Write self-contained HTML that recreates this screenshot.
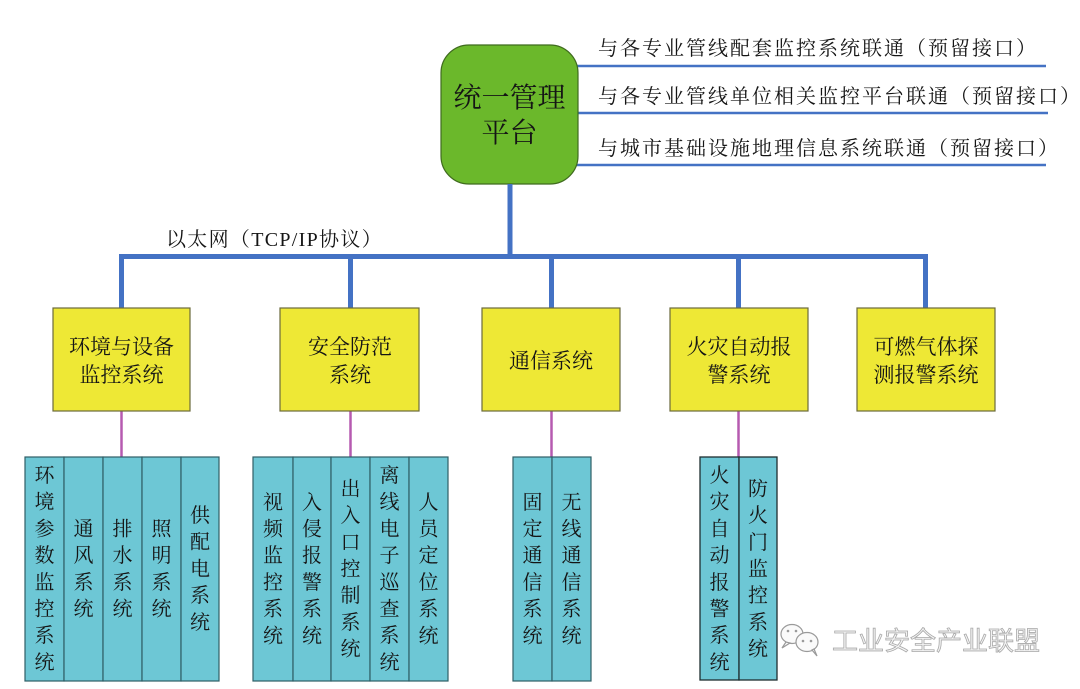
<!DOCTYPE html>
<html><head><meta charset="utf-8"><style>
html,body{margin:0;padding:0;background:#fff;}
svg{display:block;}
text{font-family:"Liberation Serif","Noto Serif CJK SC",serif;fill:#151515;}
</style></head><body>
<svg width="1080" height="689" viewBox="0 0 1080 689" xmlns="http://www.w3.org/2000/svg">
<!-- right interface lines -->
<g stroke="#4472C4" stroke-width="2.5" fill="none">
<line x1="575" y1="66" x2="1046" y2="66"/>
<line x1="575" y1="113" x2="1048" y2="113"/>
<line x1="575" y1="165" x2="1046" y2="165"/>
</g>
<g font-size="20" letter-spacing="2">
<text x="598" y="55">与各专业管线配套监控系统联通（预留接口）</text>
<text x="598" y="103">与各专业管线单位相关监控平台联通（预留接口）</text>
<text x="598" y="155">与城市基础设施地理信息系统联通（预留接口）</text>
</g>
<!-- green box -->
<rect x="441" y="45" width="137" height="139" rx="28" ry="28" fill="#6BB82B" stroke="#3f6b1e" stroke-width="1.2"/>
<text x="509.5" y="107" font-size="28" text-anchor="middle">统一管理</text>
<text x="509.5" y="142" font-size="28" text-anchor="middle">平台</text>
<!-- trunk & bus -->
<g stroke="#4472C4" stroke-width="5" fill="none" stroke-linejoin="miter">
<line x1="510" y1="184" x2="510" y2="257"/>
<polyline points="121.5,308 121.5,256.5 925.5,256.5 925.5,308"/>
<line x1="350.5" y1="256" x2="350.5" y2="308"/>
<line x1="551.5" y1="256" x2="551.5" y2="308"/>
<line x1="738.5" y1="256" x2="738.5" y2="308"/>
</g>
<text x="166" y="246" font-size="20" letter-spacing="1.3">以太网（TCP/IP协议）</text>
<!-- magenta lines -->
<g stroke="#B65AB0" stroke-width="2.5">
<line x1="121.5" y1="411" x2="121.5" y2="457"/>
<line x1="350.5" y1="411" x2="350.5" y2="457"/>
<line x1="551.5" y1="411" x2="551.5" y2="457"/>
<line x1="738.5" y1="411" x2="738.5" y2="457"/>
</g>
<!-- yellow boxes -->
<g fill="#EEE835" stroke="#6b6a3c" stroke-width="1.2">
<rect x="53" y="308" width="137" height="103"/>
<rect x="280" y="308" width="139" height="103"/>
<rect x="482" y="308" width="138" height="103"/>
<rect x="670" y="308" width="138" height="103"/>
<rect x="857" y="308" width="138" height="103"/>
</g>
<g font-size="21" text-anchor="middle">
<text x="121.5" y="354">环境与设备</text>
<text x="121.5" y="382">监控系统</text>
<text x="350" y="354">安全防范</text>
<text x="350" y="382">系统</text>
<text x="551" y="368">通信系统</text>
<text x="739" y="354">火灾自动报</text>
<text x="739" y="382">警系统</text>
<text x="926" y="354">可燃气体探</text>
<text x="926" y="382">测报警系统</text>
</g>
<!-- teal columns -->
<g fill="#6DC7D5" stroke="#2f5f66" stroke-width="1.2">
<rect x="25" y="457" width="39" height="224"/>
<rect x="64" y="457" width="39" height="224"/>
<rect x="103" y="457" width="39" height="224"/>
<rect x="142" y="457" width="39" height="224"/>
<rect x="181" y="457" width="38" height="224"/>
<rect x="253" y="457" width="40" height="224"/>
<rect x="293" y="457" width="38" height="224"/>
<rect x="331" y="457" width="39" height="224"/>
<rect x="370" y="457" width="39" height="224"/>
<rect x="409" y="457" width="39" height="224"/>
<rect x="513" y="457" width="39" height="224"/>
<rect x="552" y="457" width="39" height="224"/>
</g>
<g fill="#6DC7D5" stroke="#1e2e30" stroke-width="1.3">
<rect x="700" y="457" width="39" height="223"/>
<rect x="739" y="457" width="38" height="223"/>
</g>
<g font-size="20" text-anchor="middle">
<text y="482"><tspan x="44.5">环</tspan><tspan x="44.5" dy="26.7">境</tspan><tspan x="44.5" dy="26.7">参</tspan><tspan x="44.5" dy="26.7">数</tspan><tspan x="44.5" dy="26.7">监</tspan><tspan x="44.5" dy="26.7">控</tspan><tspan x="44.5" dy="26.7">系</tspan><tspan x="44.5" dy="26.7">统</tspan></text>
<text y="535.5"><tspan x="83.5">通</tspan><tspan x="83.5" dy="26.7">风</tspan><tspan x="83.5" dy="26.7">系</tspan><tspan x="83.5" dy="26.7">统</tspan></text>
<text y="535.5"><tspan x="122.5">排</tspan><tspan x="122.5" dy="26.7">水</tspan><tspan x="122.5" dy="26.7">系</tspan><tspan x="122.5" dy="26.7">统</tspan></text>
<text y="535.5"><tspan x="161.5">照</tspan><tspan x="161.5" dy="26.7">明</tspan><tspan x="161.5" dy="26.7">系</tspan><tspan x="161.5" dy="26.7">统</tspan></text>
<text y="522"><tspan x="200">供</tspan><tspan x="200" dy="26.7">配</tspan><tspan x="200" dy="26.7">电</tspan><tspan x="200" dy="26.7">系</tspan><tspan x="200" dy="26.7">统</tspan></text>

<text y="508.75"><tspan x="273">视</tspan><tspan x="273" dy="26.7">频</tspan><tspan x="273" dy="26.7">监</tspan><tspan x="273" dy="26.7">控</tspan><tspan x="273" dy="26.7">系</tspan><tspan x="273" dy="26.7">统</tspan></text>
<text y="508.75"><tspan x="312">入</tspan><tspan x="312" dy="26.7">侵</tspan><tspan x="312" dy="26.7">报</tspan><tspan x="312" dy="26.7">警</tspan><tspan x="312" dy="26.7">系</tspan><tspan x="312" dy="26.7">统</tspan></text>
<text y="495.4"><tspan x="350.5">出</tspan><tspan x="350.5" dy="26.7">入</tspan><tspan x="350.5" dy="26.7">口</tspan><tspan x="350.5" dy="26.7">控</tspan><tspan x="350.5" dy="26.7">制</tspan><tspan x="350.5" dy="26.7">系</tspan><tspan x="350.5" dy="26.7">统</tspan></text>
<text y="482"><tspan x="389.5">离</tspan><tspan x="389.5" dy="26.7">线</tspan><tspan x="389.5" dy="26.7">电</tspan><tspan x="389.5" dy="26.7">子</tspan><tspan x="389.5" dy="26.7">巡</tspan><tspan x="389.5" dy="26.7">查</tspan><tspan x="389.5" dy="26.7">系</tspan><tspan x="389.5" dy="26.7">统</tspan></text>
<text y="508.75"><tspan x="428.5">人</tspan><tspan x="428.5" dy="26.7">员</tspan><tspan x="428.5" dy="26.7">定</tspan><tspan x="428.5" dy="26.7">位</tspan><tspan x="428.5" dy="26.7">系</tspan><tspan x="428.5" dy="26.7">统</tspan></text>

<text y="508.75"><tspan x="532.5">固</tspan><tspan x="532.5" dy="26.7">定</tspan><tspan x="532.5" dy="26.7">通</tspan><tspan x="532.5" dy="26.7">信</tspan><tspan x="532.5" dy="26.7">系</tspan><tspan x="532.5" dy="26.7">统</tspan></text>
<text y="508.75"><tspan x="571.5">无</tspan><tspan x="571.5" dy="26.7">线</tspan><tspan x="571.5" dy="26.7">通</tspan><tspan x="571.5" dy="26.7">信</tspan><tspan x="571.5" dy="26.7">系</tspan><tspan x="571.5" dy="26.7">统</tspan></text>

<text y="482"><tspan x="719.5">火</tspan><tspan x="719.5" dy="26.7">灾</tspan><tspan x="719.5" dy="26.7">自</tspan><tspan x="719.5" dy="26.7">动</tspan><tspan x="719.5" dy="26.7">报</tspan><tspan x="719.5" dy="26.7">警</tspan><tspan x="719.5" dy="26.7">系</tspan><tspan x="719.5" dy="26.7">统</tspan></text>
<text y="495.4"><tspan x="758">防</tspan><tspan x="758" dy="26.7">火</tspan><tspan x="758" dy="26.7">门</tspan><tspan x="758" dy="26.7">监</tspan><tspan x="758" dy="26.7">控</tspan><tspan x="758" dy="26.7">系</tspan><tspan x="758" dy="26.7">统</tspan></text>
</g>
<!-- watermark -->
<g fill="#fafafa" stroke="#9a9a9a" stroke-width="1.2">
<ellipse cx="792" cy="634" rx="11" ry="9.5"/>
<path d="M786 642 L782 648 L790 643 Z"/>
<ellipse cx="807" cy="642" rx="11" ry="9.5"/>
<path d="M812 650 L817 656 L814 649 Z"/>
</g>
<g fill="#9a9a9a">
<circle cx="788" cy="631" r="1.3"/><circle cx="796" cy="631" r="1.3"/>
<circle cx="803" cy="641" r="1.3"/><circle cx="811" cy="641" r="1.3"/>
</g>
<text x="832" y="650" font-size="26" style="font-family:'Noto Sans CJK SC','Liberation Sans',sans-serif;fill:#f4f4f4;stroke:#a8a8a8;stroke-width:0.8;">工业安全产业联盟</text>
</svg>
</body></html>
